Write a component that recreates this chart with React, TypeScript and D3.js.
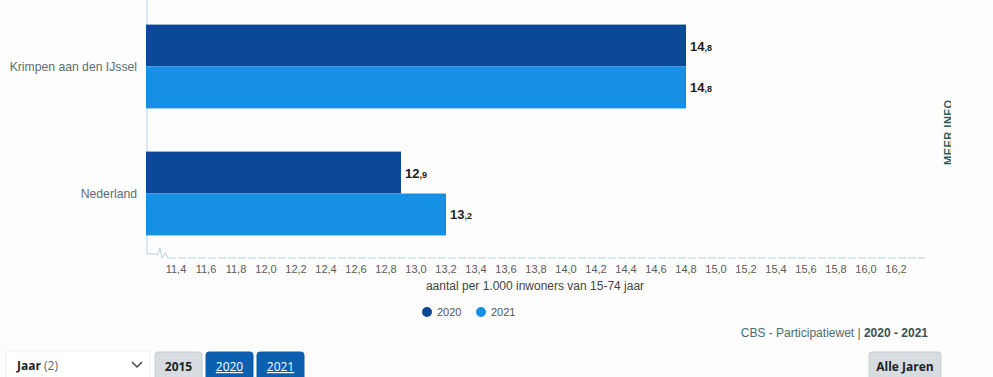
import React from "react";
import * as d3 from "d3";

const categories = ["Krimpen aan den IJssel", "Nederland"];
const seriesNames = ["2020", "2021"];
const values2020 = [14.8, 12.9];
const values2021 = [14.8, 13.2];
const tickValues = [11.4, 11.6, 11.8, 12.0, 12.2, 12.4, 12.6, 12.8, 13.0, 13.2, 13.4, 13.6, 13.8, 14.0, 14.2, 14.4, 14.6, 14.8, 15.0, 15.2, 15.4, 15.6, 15.8, 16.0, 16.2];
const axisTitle = "aantal per 1.000 inwoners van 15-74 jaar";
const sourceText = "CBS - Participatiewet | ";
const sourceYears = "2020 - 2021";
const yearButtons = ["2015", "2020", "2021"];

const W = 993;
const H = 377;
const colors = ["#0c4898", "#1590e4"];
const font = "'Liberation Sans', Arial, sans-serif";

export default function App() {
  const x = d3.scaleLinear().domain([11.2, 16.4]).range([146, 926]);
  const y = d3.scaleBand().domain(categories).range([3, 257]).paddingInner(0.34).paddingOuter(0.17);
  const ySub = d3.scaleBand().domain(seriesNames).range([0, y.bandwidth()]);
  const series = [values2020, values2021];
  const fmt = (v: number) => d3.format(".1f")(v).replace(".", ",");
  const baseY = 258;

  return (
    <svg width={W} height={H} style={{ position: "absolute", left: 0, top: 0, background: "#fdfdfd" }} fontFamily={font}>
      <defs>
        <clipPath id="meerclip">
          <rect x={0} y={0} width={951} height={H} />
        </clipPath>
      </defs>
      {/* vertical axis line + break */}
      <path
        d={`M147,0 L147,254 L158,254 L160,248 L162,258 L165,253 L168,258`}
        fill="none"
        stroke="#b9d0dc"
        strokeWidth={1}
      />
      <line x1={168} x2={925} y1={baseY} y2={baseY} stroke="#b9d4e2" strokeWidth={1} strokeDasharray="8,2" />

      {categories.map((c, i) => (
        <g key={c}>
          <text x={137} y={(y(c) as number) + y.bandwidth() / 2 + 4} textAnchor="end" fontSize={12.2} fill="#5b6e72">
            {c}
          </text>
          {seriesNames.map((s, j) => {
            const v = series[j][i];
            const by = (y(c) as number) + (ySub(s) as number);
            const bh = ySub.bandwidth();
            const [ip, dp] = fmt(v).split(",");
            return (
              <g key={s}>
                <rect x={x(11.2)} y={by} width={x(v) - x(11.2)} height={bh} fill={colors[j]} />
                <text x={x(v) + 4} y={by + bh / 2 + 5} fontSize={13} fontWeight="bold" fill="#1e1e1e">
                  {ip}
                  <tspan fontSize={9}>,{dp}</tspan>
                </text>
              </g>
            );
          })}
        </g>
      ))}

      {tickValues.map((t) => (
        <text key={t} x={x(t)} y={273} textAnchor="middle" fontSize={11} fill="#5a5a5a">
          {fmt(t)}
        </text>
      ))}
      <text x={535} y={290} textAnchor="middle" fontSize={12} fill="#444">
        {axisTitle}
      </text>

      {/* legend */}
      {seriesNames.map((s, j) => (
        <g key={s} transform={`translate(${427 + j * 54},312)`}>
          <circle cx={0} cy={0} r={5} fill={colors[j]} />
          <text x={10} y={4} fontSize={11} fill="#555">
            {s}
          </text>
        </g>
      ))}

      {/* source */}
      <text x={928} y={337} textAnchor="end" fontSize={12} fill="#4c6b70">
        {sourceText}
        <tspan fontWeight="bold" fill="#3a5055">{sourceYears}</tspan>
      </text>

      {/* MEER INFO */}
      <g clipPath="url(#meerclip)">
        <text transform="translate(952,165) rotate(-90)" fontSize={11} fontWeight="bold" fill="#2f5e5e" letterSpacing={0.5}>
          MEER INFO
        </text>
      </g>

      {/* bottom controls */}
      <g fontFamily="'Open Sans', 'DejaVu Sans', sans-serif">
        <rect x={6} y={351} width={144} height={30} fill="#ffffff" stroke="#eef1f2" />
        <text x={17} y={370} fontSize={12} fontWeight="bold" fill="#222">
          Jaar <tspan fontWeight="normal" fill="#666">(2)</tspan>
        </text>
        <path d="M132,362 L137,367 L142,362" fill="none" stroke="#444" strokeWidth={1.5} />
        {yearButtons.map((b, i) => {
          const bx = 155 + i * 51;
          const active = i > 0;
          return (
            <g key={b}>
              <rect x={bx} y={352} width={47} height={30} rx={3} fill={active ? "#0b5fae" : "#d6dcdf"} stroke={active ? "#0b5fae" : "#c8cfd2"} />
              <text x={bx + 23.5} y={371} textAnchor="middle" fontSize={12} fontWeight={active ? "normal" : "bold"} fill={active ? "#ffffff" : "#222"} textDecoration={active ? "underline" : "none"}>
                {b}
              </text>
            </g>
          );
        })}
        <rect x={869} y={352} width={72} height={30} rx={3} fill="#d6dcdf" stroke="#c8cfd2" />
        <text x={905} y={371} textAnchor="middle" fontSize={12} fontWeight="bold" fill="#222">
          Alle Jaren
        </text>
      </g>
    </svg>
  );
}
